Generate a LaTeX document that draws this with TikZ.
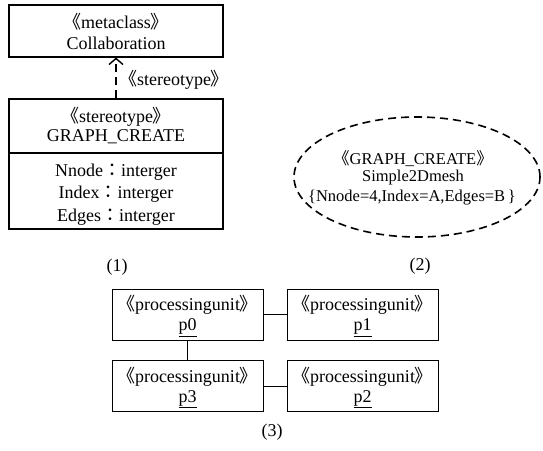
\documentclass[tikz,border=0pt]{standalone}
\usepackage{fontspec}
\setmainfont{Liberation Serif}
\newfontfamily\cjk{Noto Sans CJK SC}
\newfontfamily\cjktc{Noto Sans CJK TC}
\usetikzlibrary{arrows.meta,shapes.geometric}
\newcommand\gl{{\cjk 《}}
\newcommand\gr{{\cjk 》}}
\newcommand\fc{{\cjktc ：}}
\begin{document}
\begin{tikzpicture}[x=1pt,y=-1pt,
  txt/.style={inner sep=0pt,font=\fontsize{18}{21}\selectfont},
  small/.style={inner sep=0pt,font=\fontsize{16.5}{19}\selectfont},
  umlbox/.style={draw,line width=1.2pt,rectangle,inner sep=0pt},
  pubox/.style={draw,line width=1pt,rectangle,inner sep=0pt,minimum width=151pt,minimum height=51pt},
  link/.style={line width=1pt}]
\useasboundingbox (0,0) rectangle (543,450);

% metaclass box
\node[umlbox,minimum width=214pt,minimum height=52pt] (coll) at (116,31) {};
\node[txt] (collst) at (116,22) {\gl metaclass\gr};
\node[txt] (collnm) at (116,43) {Collaboration};

% stereotype class with attribute compartment
\node[umlbox,minimum width=214pt,minimum height=54pt] (gctop) at (116,126) {};
\node[umlbox,minimum width=214pt,minimum height=76pt] (gcbot) at (116,191) {};
\node[txt] (gcst) at (116,117) {\gl stereotype\gr};
\node[txt] (gcnm) at (116,137) {GRAPH\_CREATE};
\node[txt] (a1) at (116,172) {Nnode\fc interger};
\node[txt] (a2) at (116,194) {Index\fc interger};
\node[txt] (a3) at (116,217) {Edges\fc interger};

% extension dependency
\draw[line width=1.8pt,dash pattern=on 8pt off 5pt,
      -{Straight Barb[length=6pt,width=14pt,line width=1.4pt]}]
  (gctop.north) -- (coll.south);
\node[txt] (extlbl) at (174,80) {\gl stereotype\gr};

% stereotyped instance
\node[draw,ellipse,line width=1.6pt,dash pattern=on 8pt off 5pt,
      minimum width=246pt,minimum height=120pt] (mesh) at (417,177) {};
\node[small] (m1) at (413,159) {\gl GRAPH\_CREATE\gr};
\node[small] (m2) at (413,178) {Simple2Dmesh};
\node[small] (m3) at (412,198) {\{Nnode=4,Index=A,Edges=B\,\}};

% captions
\node[txt] (c1) at (117,267) {(1)};
\node[txt] (c2) at (420,266) {(2)};
\node[txt] (c3) at (272,432) {(3)};

% processing units
\node[pubox] (p0) at (187.5,314.5) {};
\node[pubox] (p1) at (362.5,314.5) {};
\node[pubox] (p3) at (187.5,386) {};
\node[pubox] (p2) at (362.5,386) {};
\foreach \n/\lab in {p0/p0,p1/p1,p3/p3,p2/p2}{
  \node[txt] (\n st) at ([yshift=9.5pt]\n.center) {\gl processingunit\gr};
  \node[txt] (\n nm) at ([yshift=-13pt]\n.center) {\underline{\lab}};
}
\draw[link] (p0) -- (p1);
\draw[link] (p3) -- (p2);
\draw[link] (p0) -- (p3);
\end{tikzpicture}
\end{document}
